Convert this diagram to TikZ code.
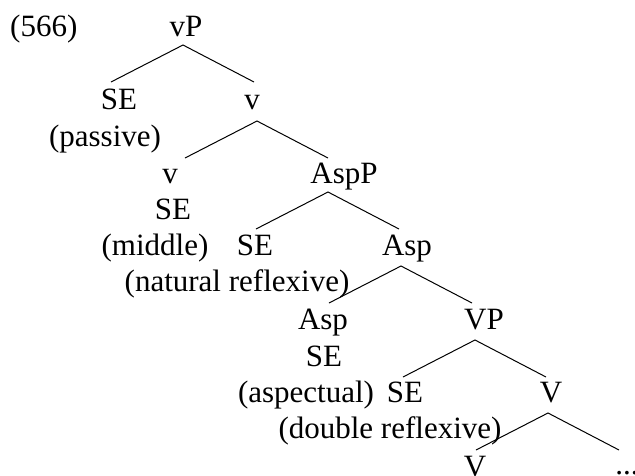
\documentclass[tikz,border=0pt]{standalone}
\usepackage{fontspec}
\setmainfont{Liberation Serif}
\usetikzlibrary{calc}
\tikzset{
  lbl/.style   ={anchor=base, inner sep=0pt, font=\fontsize{31}{37}\selectfont},
  branch/.style={line width=1pt},
}

\begin{document}
\begin{tikzpicture}[x=1pt, y=-1pt]
  \useasboundingbox (0,0) rectangle (635,475);
  % --- labels --------------------------------------------------------------
  \node[lbl, anchor=base west] (ex) at (10,36) {(566)};
  \node[lbl] (vP)   at (186,36)  {vP};
  \node[lbl] (se1)  at (119,109) {SE};
  \node[lbl] (pas)  at (105,146) {(passive)};
  \node[lbl] (v1)   at (252,109) {v};
  \node[lbl] (v2)   at (170,183) {v};
  \node[lbl] (se2)  at (173,219) {SE};
  \node[lbl] (mid)  at (155,255) {(middle)};
  \node[lbl] (aspP) at (344,183) {AspP};
  \node[lbl] (se3)  at (255,255) {SE};
  \node[lbl] (nat)  at (237,291) {(natural reflexive)};
  \node[lbl] (asp1) at (407,255) {Asp};
  \node[lbl] (asp2) at (323,329) {Asp};
  \node[lbl] (se4)  at (324,366) {SE};
  \node[lbl] (aspc) at (306,402) {(aspectual)};
  \node[lbl] (VP)   at (484,329) {VP};
  \node[lbl] (se5)  at (405,402) {SE};
  \node[lbl] (dbl)  at (390,438) {(double reflexive)};
  \node[lbl] (V1)   at (551,402) {V};
  \node[lbl] (V2)   at (475,476) {V};
  \node[lbl] (dots) at (627,474) {...};

  % --- branches: apex of each binary split --------------------------------
  \foreach \i/\x/\y in {1/183/45, 2/257/121, 3/328/192, 4/401/266, 5/475/340, 6/548/413} {
    \coordinate (top\i) at (\x,\y);
    \coordinate (lft\i) at ($(top\i)+(-72,37)$);
    \coordinate (rgt\i) at ($(top\i)+(71,37)$);
    \draw[branch] (lft\i) -- (top\i) -- (rgt\i);
  }
\end{tikzpicture}
\end{document}
